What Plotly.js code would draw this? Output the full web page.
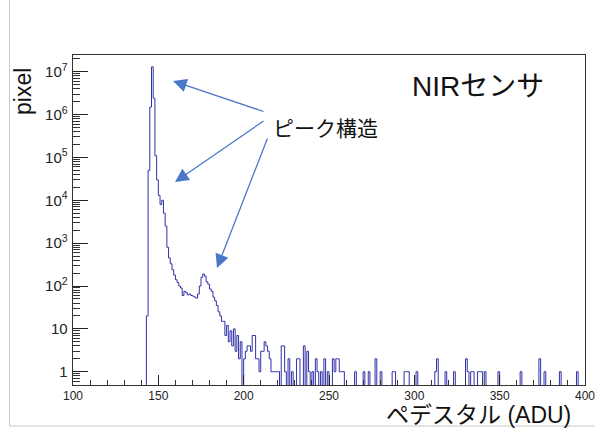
<!DOCTYPE html>
<html>
<head>
<meta charset="utf-8">
<script src="https://cdn.plot.ly/plotly-3.0.1.min.js"></script>
<style>html,body{margin:0;padding:0;background:#fff;}#chart{width:595px;height:430px;}</style>
</head>
<body>
<div id="chart"></div>
<script>
// Histogram: lower edge of each non-empty 1-ADU bin and its pixel count
const pedestalBins = [143,144,145,146,147,148,149,150,151,152,153,154,155,156,157,158,159,160,161,162,163,164,165,166,167,168,169,170,171,172,173,174,175,176,177,178,179,180,181,182,183,184,185,186,187,188,189,190,191,192,193,194,195,196,197,198,
200,201,202,203,204,205,206,207,208,209,210,211,212,213,214,215,216,217,218,219,220,222,223,224,226,228,231,232,235,237,238,240,242,243,245,247,249,252,253,254,255,256,257,258,
265,270,273,277,280,287,288,294,295,296,301,312,313,318,323,330,331,333,334,337,338,339,341,349,362,373,376,385,395];
const pixelCounts = [20,50000,1500000,13000000,2400000,110000,30000,13000,8000,10000,5000,2500,800,450,330,240,180,140,120,100,90,60,75,70,62,65,60,58,55,52,65,100,160,190,170,125,110,85,75,55,45,35,25,20,15,15,7,12,5,9,4,10,3,7,2,5,
2,3,4,4,3,7,7,2,2,1,3,3,5,4,3,2,1,1,1,1,1,4,4,1,2,1,2,2,4,3,1,1,2,1,1,2,1,2,1,2,2,1,1,1,
1,1,1,2,1,1,1,1,1,1,1,1,2,1,1,2,1,1,1,1,1,1,1,1,1,2,1,1,1];
const xMin = 100, xMax = 400;
const xTickVals = [100,150,200,250,300,350,400];

// build step outline (empty bins drop below the axis floor)
const countByBin = {};
pedestalBins.forEach((b,i)=>{countByBin[b]=pixelCounts[i];});
const FLOOR = 0.1;
const xs=[], ys=[];
for(let b=xMin;b<xMax;b++){ xs.push(b); const c=countByBin[b]||0; ys.push(c>0?c:FLOOR); }
xs.push(xMax); ys.push(ys[ys.length-1]);

const W=595,H=430,L=73,R=585,T=55,B=385;
const px=(x)=>(x-L)/(R-L), py=(y)=>(B-y)/(B-T);
const tickFont={family:'Liberation Sans, Arial, sans-serif',size:12,color:'#222'};
const arrowColor='#4a78c8';

function arrow(tipX,tipY,tailX,tailY){
  return {xref:'paper',yref:'paper',x:px(tipX),y:py(tipY),ax:tailX-tipX,ay:tailY-tipY,
    text:'',showarrow:true,arrowhead:2,arrowsize:2.1,arrowwidth:1.3,arrowcolor:arrowColor,standoff:0};
}

const trace={x:xs,y:ys,type:'scatter',mode:'lines',line:{shape:'hv',color:'#3030a8',width:1},hoverinfo:'skip'};

const layout={
  width:W,height:H,
  margin:{l:L,r:W-R,t:T,b:H-B,pad:0},
  paper_bgcolor:'#fff',plot_bgcolor:'#fff',
  showlegend:false,
  xaxis:{range:[xMin,xMax],tickvals:xTickVals,ticks:'inside',ticklen:10,tickcolor:'#222',
    showgrid:false,zeroline:false,showline:true,linecolor:'#333',linewidth:1,mirror:true,
    tickfont:tickFont,ticklabeloverflow:'allow',
    minor:{dtick:10,ticks:'inside',ticklen:5,tickcolor:'#333',showgrid:false}},
  yaxis:{type:'log',range:[-0.31,7.39],dtick:1,exponentformat:'power',ticks:'inside',ticklen:15,tickcolor:'#222',
    showgrid:false,zeroline:false,showline:true,linecolor:'#333',linewidth:1,mirror:true,
    tickfont:tickFont,ticklabelstandoff:2,
    minor:{ticks:'inside',ticklen:7,tickcolor:'#333',showgrid:false}},
  shapes:[
    {type:'line',xref:'paper',yref:'paper',x0:px(9.5),x1:px(9.5),y0:py(0),y1:py(426),line:{color:'#c8c8c8',width:1}},
    {type:'line',xref:'paper',yref:'paper',x0:px(9.5),x1:px(595),y0:py(426),y1:py(426),line:{color:'#c8c8c8',width:1}}
  ],
  annotations:[
    {xref:'paper',yref:'paper',x:px(478),y:py(87),text:'NIRセンサ',showarrow:false,xanchor:'center',yanchor:'middle',
      font:{family:'Liberation Sans, Noto Sans CJK JP, sans-serif',size:28,color:'#111'}},
    {xref:'paper',yref:'paper',x:px(325),y:py(127),text:'ピーク構造',showarrow:false,xanchor:'center',yanchor:'middle',
      font:{family:'Noto Sans CJK JP, sans-serif',size:21,color:'#111'}},
    {xref:'paper',yref:'paper',x:px(573),y:py(415),text:'ペデスタル (ADU)',showarrow:false,xanchor:'right',yanchor:'middle',
      font:{family:'Liberation Sans, Noto Sans CJK JP, sans-serif',size:23,color:'#111'}},
    {xref:'paper',yref:'paper',x:px(23),y:py(92),text:'pixel',showarrow:false,textangle:-90,xanchor:'center',yanchor:'middle',
      font:{family:'Liberation Sans, Arial, sans-serif',size:23,color:'#111'}},
    arrow(173,81,265,112),
    arrow(175,182,265,120),
    arrow(217,268,268,137)
  ]
};

Plotly.newPlot('chart',[trace],layout,{displayModeBar:false,staticPlot:true});
</script>
</body>
</html>
